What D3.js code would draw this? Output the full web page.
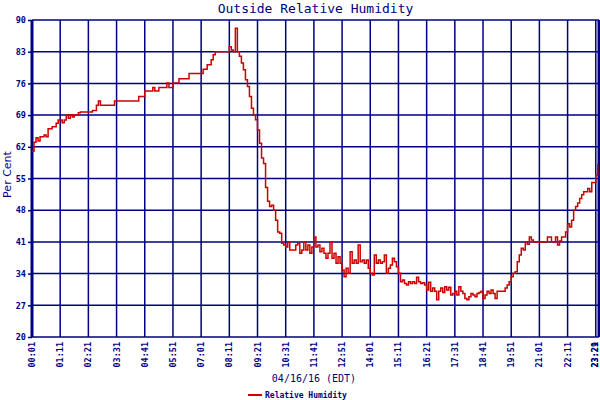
<!DOCTYPE html>
<html>
<head>
<meta charset="utf-8">
<script src="https://cdn.jsdelivr.net/npm/d3@7"></script>
<style>
  body { margin: 0; background: #fff; }
  svg { display: block; }
</style>
</head>
<body>
<svg id="chart" width="600" height="400"></svg>
<script>
// readings every 5 minutes starting at 00:01 (minutes since start)
const stepMinutes = 5
const endMinutes = 1408
const humidity = [
	61, 63, 64, 63.3, 64.2, 64.2, 64.6, 64.2, 66, 66,
	66.4, 66.4, 67.2, 67.9, 67.9, 67.3, 67.9, 69, 68.3, 69,
	68.6, 69, 69, 69.5, 69.7, 69.7, 69.7, 69.7, 69.7, 69.7,
	70, 70, 71.2, 72.1, 71.2, 71.2, 71.2, 71.2, 71.2, 71.2,
	71.2, 72.1, 72.1, 72.1, 72.1, 72.1, 72.1, 72.1, 72.1, 72.1,
	72.1, 72.1, 72.1, 73.1, 73.1, 73.1, 74.3, 74.3, 74.3, 74.3,
	75.1, 74.3, 74.3, 75.1, 75.1, 75.1, 75.1, 76.1, 75.1, 75.1,
	76.1, 76.1, 76.1, 77, 77, 77, 77, 77, 78.2, 78.2,
	78.2, 78.2, 78.2, 78.2, 78.2, 79.1, 79.1, 80.1, 80.1, 81.2,
	82.3, 83, 83, 83, 83, 83, 83, 83, 84.1, 83.4,
	83, 88.2, 83, 82, 80.5, 79, 76.8, 75.3, 73.1, 70.5,
	69, 68, 65.7, 62.8, 59.5, 58.3, 53, 50, 48.8, 49.1,
	48, 45.8, 43.2, 42.9, 40.7, 40.3, 39.9, 41, 39.2, 39.2,
	39.2, 40.3, 40.7, 38.5, 39.2, 41, 39.2, 40.3, 38.5, 39.9,
	42.1, 39.9, 40.3, 38.8, 39.6, 38.5, 37.4, 38.5, 41, 37.4,
	38.5, 36.3, 37.7, 36.3, 34.8, 33.3, 35.2, 34.1, 38.8, 36.3,
	37, 36.3, 40.3, 36.6, 37, 36.3, 37, 35.2, 34.1, 33.7,
	38.1, 36.3, 37, 36.3, 36.6, 38.1, 34.1, 35.2, 35.9, 37.4,
	36.6, 35.5, 34.1, 32.2, 32.6, 31.8, 31.5, 32.2, 31.8, 32.2,
	31.8, 33.2, 32.2, 31.8, 32, 31.5, 30.4, 32.1, 30.1, 30.8,
	30.1, 28.2, 30.1, 30.8, 29.8, 31.1, 30.4, 31, 29.3, 29.6,
	30.1, 29.3, 31.1, 30.1, 29.6, 28.5, 28.2, 28.9, 29.6, 29.3,
	28.9, 29.6, 29.8, 30.1, 28.5, 29.3, 30.1, 29.6, 30.4, 29.6,
	28.5, 30.1, 30.1, 30.1, 30.1, 30.8, 31.5, 32.2, 33.3, 34.1,
	34.4, 36.6, 38.1, 39.6, 39.2, 41, 40.5, 42.1, 41.4, 41,
	41, 41, 41, 41, 41, 41, 42.1, 42.1, 41, 41,
	42.1, 40.3, 41.2, 42.1, 42.1, 43.2, 45, 44.3, 45.8, 48,
	48.8, 49.6, 50.6, 51.4, 52.1, 52.1, 52.8, 52.1, 54.1, 54.1,
	55.8, 58.2
]

const yTicks = [20, 27, 34, 41, 48, 55, 62, 69, 76, 83, 90]
// grid every 70 minutes, plus the last reading time
const xTicks = d3.range(0, 1401, 70).concat([endMinutes])

const navy = '#000080'
const red = '#cc0000'

const svg = d3.select('#chart')
const margin = { left: 32, right: 1, top: 20, bottom: 63 }
const width = 600
const height = 400

const x = d3.scaleLinear().domain([0, endMinutes]).range([margin.left, width - margin.right])
const y = d3.scaleLinear().domain([20, 90]).range([height - margin.bottom, margin.top])

// label "HH:MM" counting from 00:01
function timeLabel(m) {
	const t = m + 1
	return `${String(Math.floor(t / 60)).padStart(2, '0')}:${String(t % 60).padStart(2, '0')}`
}

svg.append('rect').attr('width', width).attr('height', height).attr('fill', '#fff')

// horizontal grid + left ticks
const yAxis = d3.axisLeft(y).tickValues(yTicks).tickSize(4).tickPadding(2)
svg.append('g')
	.attr('transform', `translate(${margin.left},0)`)
	.call(yAxis)
	.call((g) => g.select('.domain').remove())
	.call((g) => g.selectAll('line').attr('stroke', navy).attr('stroke-width', 1.5))
	.call((g) => g.selectAll('text')
		.attr('fill', navy)
		.style('font', 'bold 8.5px "DejaVu Sans Mono", monospace'))

svg.append('g')
	.selectAll('line')
	.data(yTicks)
	.join('line')
	.attr('x1', margin.left)
	.attr('x2', width - margin.right)
	.attr('y1', (d) => y(d))
	.attr('y2', (d) => y(d))
	.attr('stroke', navy)
	.attr('stroke-width', 1.5)

// vertical grid
svg.append('g')
	.selectAll('line')
	.data(xTicks)
	.join('line')
	.attr('x1', (d) => x(d))
	.attr('x2', (d) => x(d))
	.attr('y1', y(20))
	.attr('y2', y(90))
	.attr('stroke', navy)
	.attr('stroke-width', (d) => (d === 0 || d === endMinutes ? 3 : 1.5))

// rotated time labels (last one kept inside the frame)
svg.append('g')
	.selectAll('text')
	.data(xTicks)
	.join('text')
	.attr('transform', (d) => `translate(${Math.min(x(d) + 3, width - 2)},${y(20) + 5}) rotate(-90)`)
	.attr('text-anchor', 'end')
	.attr('fill', navy)
	.style('font', 'bold 8.5px "DejaVu Sans Mono", monospace')
	.text(timeLabel)

// the humidity trace
const line = d3.line()
	.x((d, i) => x(i * stepMinutes))
	.y((d) => y(d))
	.curve(d3.curveStepAfter)

svg.append('path')
	.datum(humidity)
	.attr('d', line)
	.attr('fill', 'none')
	.attr('stroke', red)
	.attr('stroke-width', 1.5)

// titles
svg.append('text')
	.attr('x', (margin.left + width - margin.right) / 2)
	.attr('y', 13)
	.attr('text-anchor', 'middle')
	.attr('fill', navy)
	.style('font', '13px "DejaVu Sans Mono", monospace')
	.text('Outside Relative Humidity')

svg.append('text')
	.attr('transform', `translate(11,${y(55) - 4}) rotate(-90)`)
	.attr('text-anchor', 'middle')
	.attr('fill', navy)
	.style('font', '11px "DejaVu Sans", sans-serif')
	.text('Per Cent')

svg.append('text')
	.attr('x', 314)
	.attr('y', 382)
	.attr('text-anchor', 'middle')
	.attr('fill', navy)
	.style('font', '10px "DejaVu Sans Mono", monospace')
	.text('04/16/16 (EDT)')

//legend
const legend = svg.append('g').attr('transform', 'translate(248,395)')
legend.append('line').attr('x1', 0).attr('x2', 14).attr('stroke', red).attr('stroke-width', 2)
legend.append('text')
	.attr('x', 17)
	.attr('y', 3)
	.attr('fill', navy)
	.style('font', 'bold 8px "DejaVu Sans Mono", monospace')
	.text('Relative Humidity')
</script>
</body>
</html>
